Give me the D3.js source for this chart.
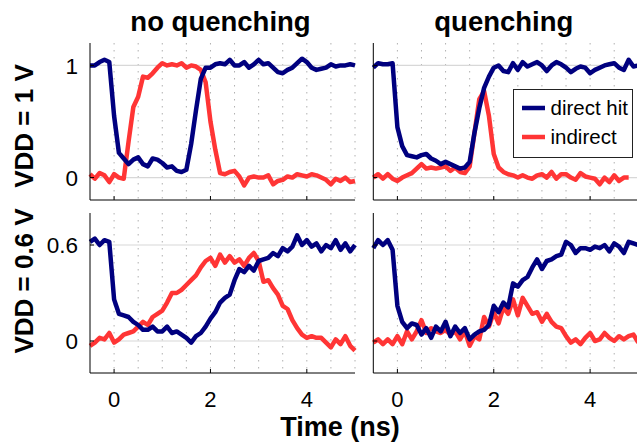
<!DOCTYPE html>
<html>
<head>
<meta charset="utf-8">
<script src="https://cdn.jsdelivr.net/npm/d3@7"></script>
<style>
  body { margin: 0; background: #fff; }
  svg { display: block; font-family: "Liberation Sans", Arial, Helvetica, sans-serif; }
</style>
</head>
<body>
<div id="chart"></div>
<script>
// sample times (ns), one every 0.1 ns
const times = [-0.5, -0.4, -0.3, -0.2, -0.1, 0.0, 0.1, 0.2, 0.3, 0.4,
  0.5, 0.6, 0.7, 0.8, 0.9, 1.0, 1.1, 1.2, 1.3, 1.4,
  1.5, 1.6, 1.7, 1.8, 1.9, 2.0, 2.1, 2.2, 2.3, 2.4,
  2.5, 2.6, 2.7, 2.8, 2.9, 3.0, 3.1, 3.2, 3.3, 3.4,
  3.5, 3.6, 3.7, 3.8, 3.9, 4.0, 4.1, 4.2, 4.3, 4.4,
  4.5, 4.6, 4.7, 4.8, 4.9, 5.0];

// VDD = 1 V, no quenching
const nqDirect1 = [1.00, 1.00, 1.03, 1.05, 1.03, 0.55, 0.22, 0.17, 0.12, 0.16,
  0.18, 0.12, 0.10, 0.17, 0.16, 0.13, 0.09, 0.10, 0.06, 0.05,
  0.07, 0.30, 0.60, 0.88, 0.98, 0.98, 1.01, 1.02, 1.01, 1.05,
  1.00, 1.00, 1.03, 0.98, 1.01, 1.05, 1.01, 1.02, 0.98, 0.94,
  0.93, 0.96, 0.98, 1.02, 1.06, 1.03, 0.98, 0.96, 0.97, 0.98,
  1.01, 0.99, 1.00, 1.00, 1.01, 1.00];
const nqIndirect1 = [0.03, -0.01, 0.04, 0.02, -0.04, 0.03, 0.00, -0.01, 0.32, 0.63,
  0.72, 0.90, 0.89, 0.93, 0.98, 1.02, 1.00, 1.01, 1.00, 1.02,
  0.98, 1.00, 0.99, 0.96, 0.85, 0.50, 0.25, 0.04, 0.03, 0.05,
  0.06, 0.01, -0.07, 0.00, 0.01, 0.00, 0.00, 0.02, -0.06, -0.03,
  -0.02, 0.01, 0.00, 0.03, 0.02, 0.01, 0.03, 0.02, 0.00, -0.02,
  -0.06, -0.01, -0.03, 0.00, -0.04, -0.03];

// VDD = 1 V, quenching
const qDirect1 = [0.98, 1.02, 1.01, 1.01, 1.02, 0.45, 0.28, 0.20, 0.19, 0.18,
  0.20, 0.21, 0.17, 0.15, 0.12, 0.14, 0.12, 0.10, 0.08, 0.09,
  0.14, 0.40, 0.62, 0.80, 0.90, 0.98, 1.00, 0.95, 0.94, 1.02,
  0.96, 1.03, 0.99, 1.01, 1.03, 1.00, 0.95, 1.00, 1.03, 1.01,
  0.98, 0.94, 0.97, 0.99, 0.98, 0.93, 0.96, 0.98, 1.00, 1.01,
  1.02, 0.98, 0.96, 1.05, 0.99, 1.00];
const qIndirect1 = [0.00, 0.03, -0.01, 0.03, -0.01, -0.03, 0.00, 0.02, 0.04, 0.08,
  0.12, 0.08, 0.09, 0.08, 0.09, 0.10, 0.06, 0.09, 0.05, 0.04,
  0.10, 0.40, 0.70, 0.77, 0.55, 0.21, 0.09, 0.05, 0.03, 0.02,
  0.00, 0.02, 0.00, -0.01, 0.02, 0.03, 0.00, 0.05, -0.01, 0.03,
  0.03, 0.00, -0.02, 0.04, 0.01, 0.00, -0.01, -0.06, 0.00, -0.04,
  0.02, -0.03, 0.00, 0.00, null, null];

// VDD = 0.6 V, no quenching
const nqDirect06 = [0.62, 0.64, 0.60, 0.63, 0.62, 0.26, 0.17, 0.16, 0.15, 0.12,
  0.10, 0.07, 0.07, 0.09, 0.06, 0.06, 0.09, 0.05, 0.06, 0.04,
  0.02, -0.01, 0.03, 0.05, 0.09, 0.14, 0.18, 0.24, 0.27, 0.29,
  0.38, 0.45, 0.43, 0.47, 0.44, 0.50, 0.51, 0.52, 0.55, 0.53,
  0.58, 0.56, 0.59, 0.66, 0.60, 0.63, 0.59, 0.61, 0.56, 0.60,
  0.58, 0.63, 0.57, 0.61, 0.56, 0.60];
const nqIndirect06 = [-0.03, -0.01, 0.02, 0.01, 0.05, -0.01, 0.01, 0.04, 0.05, 0.06,
  0.09, 0.12, 0.10, 0.15, 0.17, 0.19, 0.24, 0.30, 0.30, 0.32,
  0.35, 0.38, 0.41, 0.46, 0.50, 0.52, 0.47, 0.54, 0.49, 0.53,
  0.49, 0.51, 0.47, 0.52, 0.55, 0.50, 0.37, 0.38, 0.33, 0.29,
  0.22, 0.20, 0.13, 0.08, 0.04, 0.02, 0.03, 0.02, 0.02, -0.01,
  -0.04, 0.01, -0.02, 0.03, -0.03, -0.06];

// VDD = 0.6 V, quenching
const qDirect06 = [0.58, 0.63, 0.60, 0.63, 0.57, 0.22, 0.12, 0.08, 0.11, 0.10,
  0.04, 0.08, 0.02, 0.09, 0.06, 0.12, 0.03, 0.09, 0.05, 0.08,
  0.01, 0.04, 0.06, 0.07, 0.10, 0.22, 0.18, 0.24, 0.21, 0.36,
  0.34, 0.38, 0.40, 0.46, 0.51, 0.45, 0.50, 0.51, 0.53, 0.54,
  0.62, 0.60, 0.55, 0.58, 0.58, 0.57, 0.59, 0.58, 0.60, 0.56,
  0.61, 0.59, 0.55, 0.62, 0.61, 0.60];
const qIndirect06 = [-0.01, 0.01, -0.02, 0.01, -0.02, 0.03, -0.02, 0.06, 0.01, 0.06,
  0.13, 0.05, 0.08, 0.06, 0.05, 0.07, 0.04, 0.06, 0.01, 0.06,
  -0.03, 0.03, 0.01, 0.15, 0.09, 0.18, 0.11, 0.21, 0.17, 0.26,
  0.16, 0.27, 0.22, 0.17, 0.18, 0.12, 0.17, 0.12, 0.09, 0.08,
  0.03, -0.01, 0.01, -0.02, 0.02, 0.05, 0.00, 0.01, 0.05, 0.02,
  0.00, 0.03, 0.01, 0.03, 0.04, -0.01];

const colTitles = ["no quenching", "quenching"];
const rowTitles = ["VDD = 1 V", "VDD = 0.6 V"];
const seriesNames = ["direct hit", "indirect"];
const xTicks = [0, 2, 4];
const yTicks1 = [0, 1];
const yTicks06 = [0, 0.6];

const colors = {direct: "#00007f", indirect: "#ff3535"};

const width = 637, height = 442;

const svg = d3.select("#chart").append("svg")
    .attr("width", width)
    .attr("height", height);

// panel layout
const cols = [[90, 355], [373.3, 638.3]];
const rows = [
    {top: 43, bottom: 200, domain: [-0.2, 1.2], ticks: yTicks1},
    {top: 213, bottom: 373, domain: [-0.2, 0.8], ticks: yTicks06}
];
const data = [
    [[nqDirect1, nqIndirect1], [qDirect1, qIndirect1]],
    [[nqDirect06, nqIndirect06], [qDirect06, qIndirect06]]
];

const minorX = [0, 0.5, 1, 1.5, 2, 2.5, 3, 3.5, 4, 4.5, 5];

rows.forEach((row, ri) => {
    cols.forEach((col, ci) => {
        let x = d3.scaleLinear().domain([-0.5, 5]).range(col);
        let y = d3.scaleLinear().domain(row.domain).range([row.bottom, row.top]);
        let g = svg.append("g");

        // grid
        g.selectAll(".vgrid")
            .data(minorX)
            .join("line")
            .attr("x1", d => x(d)).attr("x2", d => x(d))
            .attr("y1", row.top).attr("y2", row.bottom)
            .attr("stroke", "#b0b0b0")
            .attr("stroke-width", 1)
            .attr("stroke-dasharray", "1.5,5.5");
        g.selectAll(".hgrid")
            .data(row.ticks)
            .join("line")
            .attr("x1", col[0]).attr("x2", col[1])
            .attr("y1", d => y(d)).attr("y2", d => y(d))
            .attr("stroke", "#d8d8d8")
            .attr("stroke-width", 1.2);

        // traces
        let line = d3.line()
            .defined(d => d[1] !== null)
            .x(d => x(d[0]))
            .y(d => y(d[1]));
        let [dir, ind] = data[ri][ci];
        g.append("path")
            .attr("d", line(times.map((t, i) => [t, ind[i]])))
            .attr("fill", "none")
            .attr("stroke", colors.indirect)
            .attr("stroke-width", 4.5)
            .attr("stroke-linejoin", "round");
        g.append("path")
            .attr("d", line(times.map((t, i) => [t, dir[i]])))
            .attr("fill", "none")
            .attr("stroke", colors.direct)
            .attr("stroke-width", 4.5)
            .attr("stroke-linejoin", "round");

        // axes (left + bottom, ticks inward)
        g.append("line")
            .attr("x1", col[0]).attr("x2", col[0])
            .attr("y1", row.top).attr("y2", row.bottom)
            .attr("stroke", "#000").attr("stroke-width", 1);
        g.append("line")
            .attr("x1", col[0]).attr("x2", col[1])
            .attr("y1", row.bottom).attr("y2", row.bottom)
            .attr("stroke", "#000").attr("stroke-width", 1);
        g.selectAll(".xtick")
            .data(xTicks)
            .join("line")
            .attr("x1", d => x(d)).attr("x2", d => x(d))
            .attr("y1", row.bottom).attr("y2", row.bottom - 4)
            .attr("stroke", "#000");
        g.selectAll(".ytick")
            .data(row.ticks)
            .join("line")
            .attr("x1", col[0]).attr("x2", col[0] + 4)
            .attr("y1", d => y(d)).attr("y2", d => y(d))
            .attr("stroke", "#000");

        if (ci === 0) {
            g.selectAll(".ylab")
                .data(row.ticks)
                .join("text")
                .attr("x", col[0] - 12)
                .attr("y", d => y(d))
                .attr("dy", "0.36em")
                .attr("text-anchor", "end")
                .attr("font-size", 22.5)
                .text(d => d3.format("")(d));
        }
        if (ri === 1) {
            g.selectAll(".xlab")
                .data(xTicks)
                .join("text")
                .attr("x", d => x(d))
                .attr("y", 406.5)
                .attr("text-anchor", "middle")
                .attr("font-size", 22)
                .text(d => d);
        }
        if (ri === 0) {
            svg.append("text")
                .attr("x", (col[0] + col[1]) / 2 - 2)
                .attr("y", 31)
                .attr("text-anchor", "middle")
                .attr("font-size", 27.5)
                .attr("font-weight", "bold")
                .text(colTitles[ci]);
        }
    });

    svg.append("text")
        .attr("transform", `translate(33,${ri === 0 ? 126 : 281}) rotate(-90)`)
        .attr("text-anchor", "middle")
        .attr("font-size", 26)
        .attr("font-weight", "bold")
        .text(rowTitles[ri]);
});

// x axis title
svg.append("text")
    .attr("x", 340)
    .attr("y", 435.5)
    .attr("text-anchor", "middle")
    .attr("font-size", 27)
    .attr("font-weight", "bold")
    .text("Time (ns)");

// legend
let lg = svg.append("g").attr("transform", "translate(513.5,89.5)");
lg.append("rect")
    .attr("width", 119)
    .attr("height", 68)
    .attr("fill", "#fff")
    .attr("stroke", "#222")
    .attr("stroke-width", 1);
[colors.direct, colors.indirect].forEach((c, i) => {
    lg.append("line")
        .attr("x1", 8.5).attr("x2", 31.5)
        .attr("y1", 18.5 + i * 29).attr("y2", 18.5 + i * 29)
        .attr("stroke", c).attr("stroke-width", 4.5);
    lg.append("text")
        .attr("x", 37)
        .attr("y", 25 + i * 29)
        .attr("font-size", 20.5)
        .text(seriesNames[i]);
});
</script>
</body>
</html>
